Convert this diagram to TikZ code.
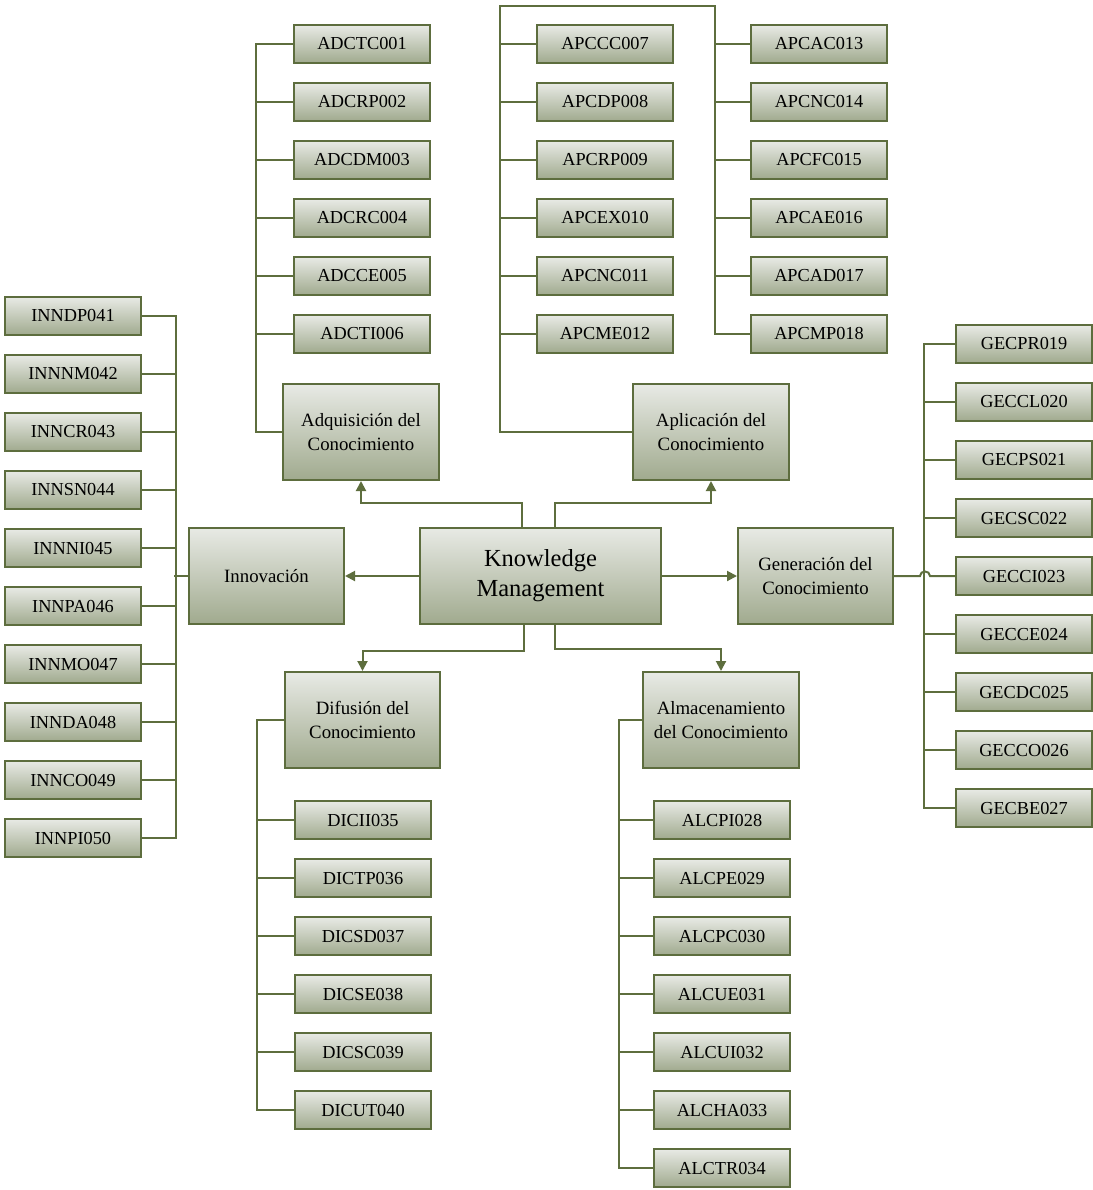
\documentclass[tikz,border=0pt]{standalone}
\usepackage{fontspec}
\setmainfont{Liberation Serif}
\usetikzlibrary{arrows.meta}
\definecolor{boxline}{HTML}{5D6D3E}
\definecolor{wire}{HTML}{5E6E3E}
\definecolor{shadetop}{HTML}{E8EAE5}
\definecolor{shadebot}{HTML}{A0AA8E}
\tikzset{
  box/.style={draw=boxline, line width=2pt, top color=shadetop, bottom color=shadebot,
    inner sep=0pt, align=center},
  leaf/.style={box, minimum width=136pt, minimum height=38pt,
    font=\fontsize{18.3}{20}\selectfont},
  area/.style={box, minimum width=155pt, minimum height=96pt,
    font=\fontsize{18.8}{23.5}\selectfont},
  core/.style={box, minimum width=241pt, minimum height=96pt,
    font=\fontsize{24.5}{30}\selectfont},
  wireline/.style={draw=wire, line width=2pt},
  flow/.style={wireline, -{Triangle[length=10pt,width=10pt]}},
}
\begin{document}
\begin{tikzpicture}[x=1pt,y=-1pt]
\useasboundingbox (0,0) rectangle (1092,1190);

% central concept and its six areas
\node[core] (km) at (540.5,576) {Knowledge\\Management};
\node[area, minimum width=156pt] (adq) at (361,432) {Adquisición del\\Conocimiento};
\node[area, minimum width=156pt] (apl) at (711,432) {Aplicación del\\Conocimiento};
\node[area] (inn) at (266.5,576) {Innovación};
\node[area] (gen) at (815.5,576) {Generación del\\Conocimiento};
\node[area] (dif) at (362.5,720) {Difusión del\\Conocimiento};
\node[area, minimum width=156pt] (alm) at (721,720) {Almacenamiento\\del Conocimiento};

% indicator codes
\foreach \t [count=\k from 0] in {ADCTC001,ADCRP002,ADCDM003,ADCRC004,ADCCE005,ADCTI006}
  \node[leaf] (adc\k) at (362,44+58*\k) {\t};
\foreach \t [count=\k from 0] in {APCCC007,APCDP008,APCRP009,APCEX010,APCNC011,APCME012}
  \node[leaf] (apl\k) at (605,44+58*\k) {\t};
\foreach \t [count=\k from 0] in {APCAC013,APCNC014,APCFC015,APCAE016,APCAD017,APCMP018}
  \node[leaf] (apr\k) at (819,44+58*\k) {\t};
\foreach \t [count=\k from 0] in {GECPR019,GECCL020,GECPS021,GECSC022,GECCI023,GECCE024,GECDC025,GECCO026,GECBE027}
  \node[leaf] (gec\k) at (1024,344+58*\k) {\t};
\foreach \t [count=\k from 0] in {ALCPI028,ALCPE029,ALCPC030,ALCUE031,ALCUI032,ALCHA033,ALCTR034}
  \node[leaf] (alc\k) at (722,820+58*\k) {\t};
\foreach \t [count=\k from 0] in {DICII035,DICTP036,DICSD037,DICSE038,DICSC039,DICUT040}
  \node[leaf] (dic\k) at (363,820+58*\k) {\t};
\foreach \t [count=\k from 0] in {INNDP041,INNNM042,INNCR043,INNSN044,INNNI045,INNPA046,INNMO047,INNDA048,INNCO049,INNPI050}
  \node[leaf] (inc\k) at (73,316+58*\k) {\t};

% arrows from the central concept
\draw[flow] ([xshift=-18.5pt]km.north) -- ++(0,-24) -| (adq.south);
\draw[flow] ([xshift=14.5pt]km.north) -- ++(0,-24) -| (apl.south);
\draw[flow] (km.west) -- (inn.east);
\draw[flow] (km.east) -- (gen.west);
\draw[flow] ([xshift=-16.5pt]km.south) -- ++(0,26) -| (dif.north);
\draw[flow] ([xshift=14.5pt]km.south) -- ++(0,24) -| (alm.north);

% Adquisición bus
\draw[wireline] (adq.west) -| ([xshift=-37pt]adc0.west) -- (adc0.west);
\foreach \k in {1,...,5} \draw[wireline] (adc\k.west) -- ++(-37,0);

% Aplicación bus, running over the top to the second column
\coordinate (aptopL) at (500,6);
\coordinate (aptopR) at (715,6);
\draw[wireline] (apl.west) -| (aptopL) -- (aptopR) |- (apr5.west);
\foreach \k in {0,...,5} \draw[wireline] (apl\k.west) -- ++(-37,0);
\foreach \k in {0,...,4} \draw[wireline] (apr\k.west) -- ++(-36,0);

% Innovación bus
\draw[wireline] (inc0.east) -- ++(34,0) |- (inc9.east);
\foreach \k in {1,...,8} \draw[wireline] (inc\k.east) -- ++(34,0);
\draw[wireline] (inn.west) -- ++(-14,0);

% Generación bus, with a hop where the feed crosses it
\draw[wireline] (gec0.west) -- ++(-31,0) |- (gec8.west);
\foreach \k in {1,2,3,5,6,7} \draw[wireline] (gec\k.west) -- ++(-31,0);
\coordinate (hopA) at (920,576);
\coordinate (hopB) at (930,576);
\draw[wireline] (gen.east) -- (hopA) .. controls (920,570) and (930,570) .. (hopB) -- (gec4.west);

% Difusión bus
\draw[wireline] (dif.west) -- ++(-27,0) |- (dic5.west);
\foreach \k in {0,...,4} \draw[wireline] (dic\k.west) -- ++(-37,0);

% Almacenamiento bus
\draw[wireline] (alm.west) -- ++(-23,0) |- (alc6.west);
\foreach \k in {0,...,5} \draw[wireline] (alc\k.west) -- ++(-34,0);
\end{tikzpicture}
\end{document}
